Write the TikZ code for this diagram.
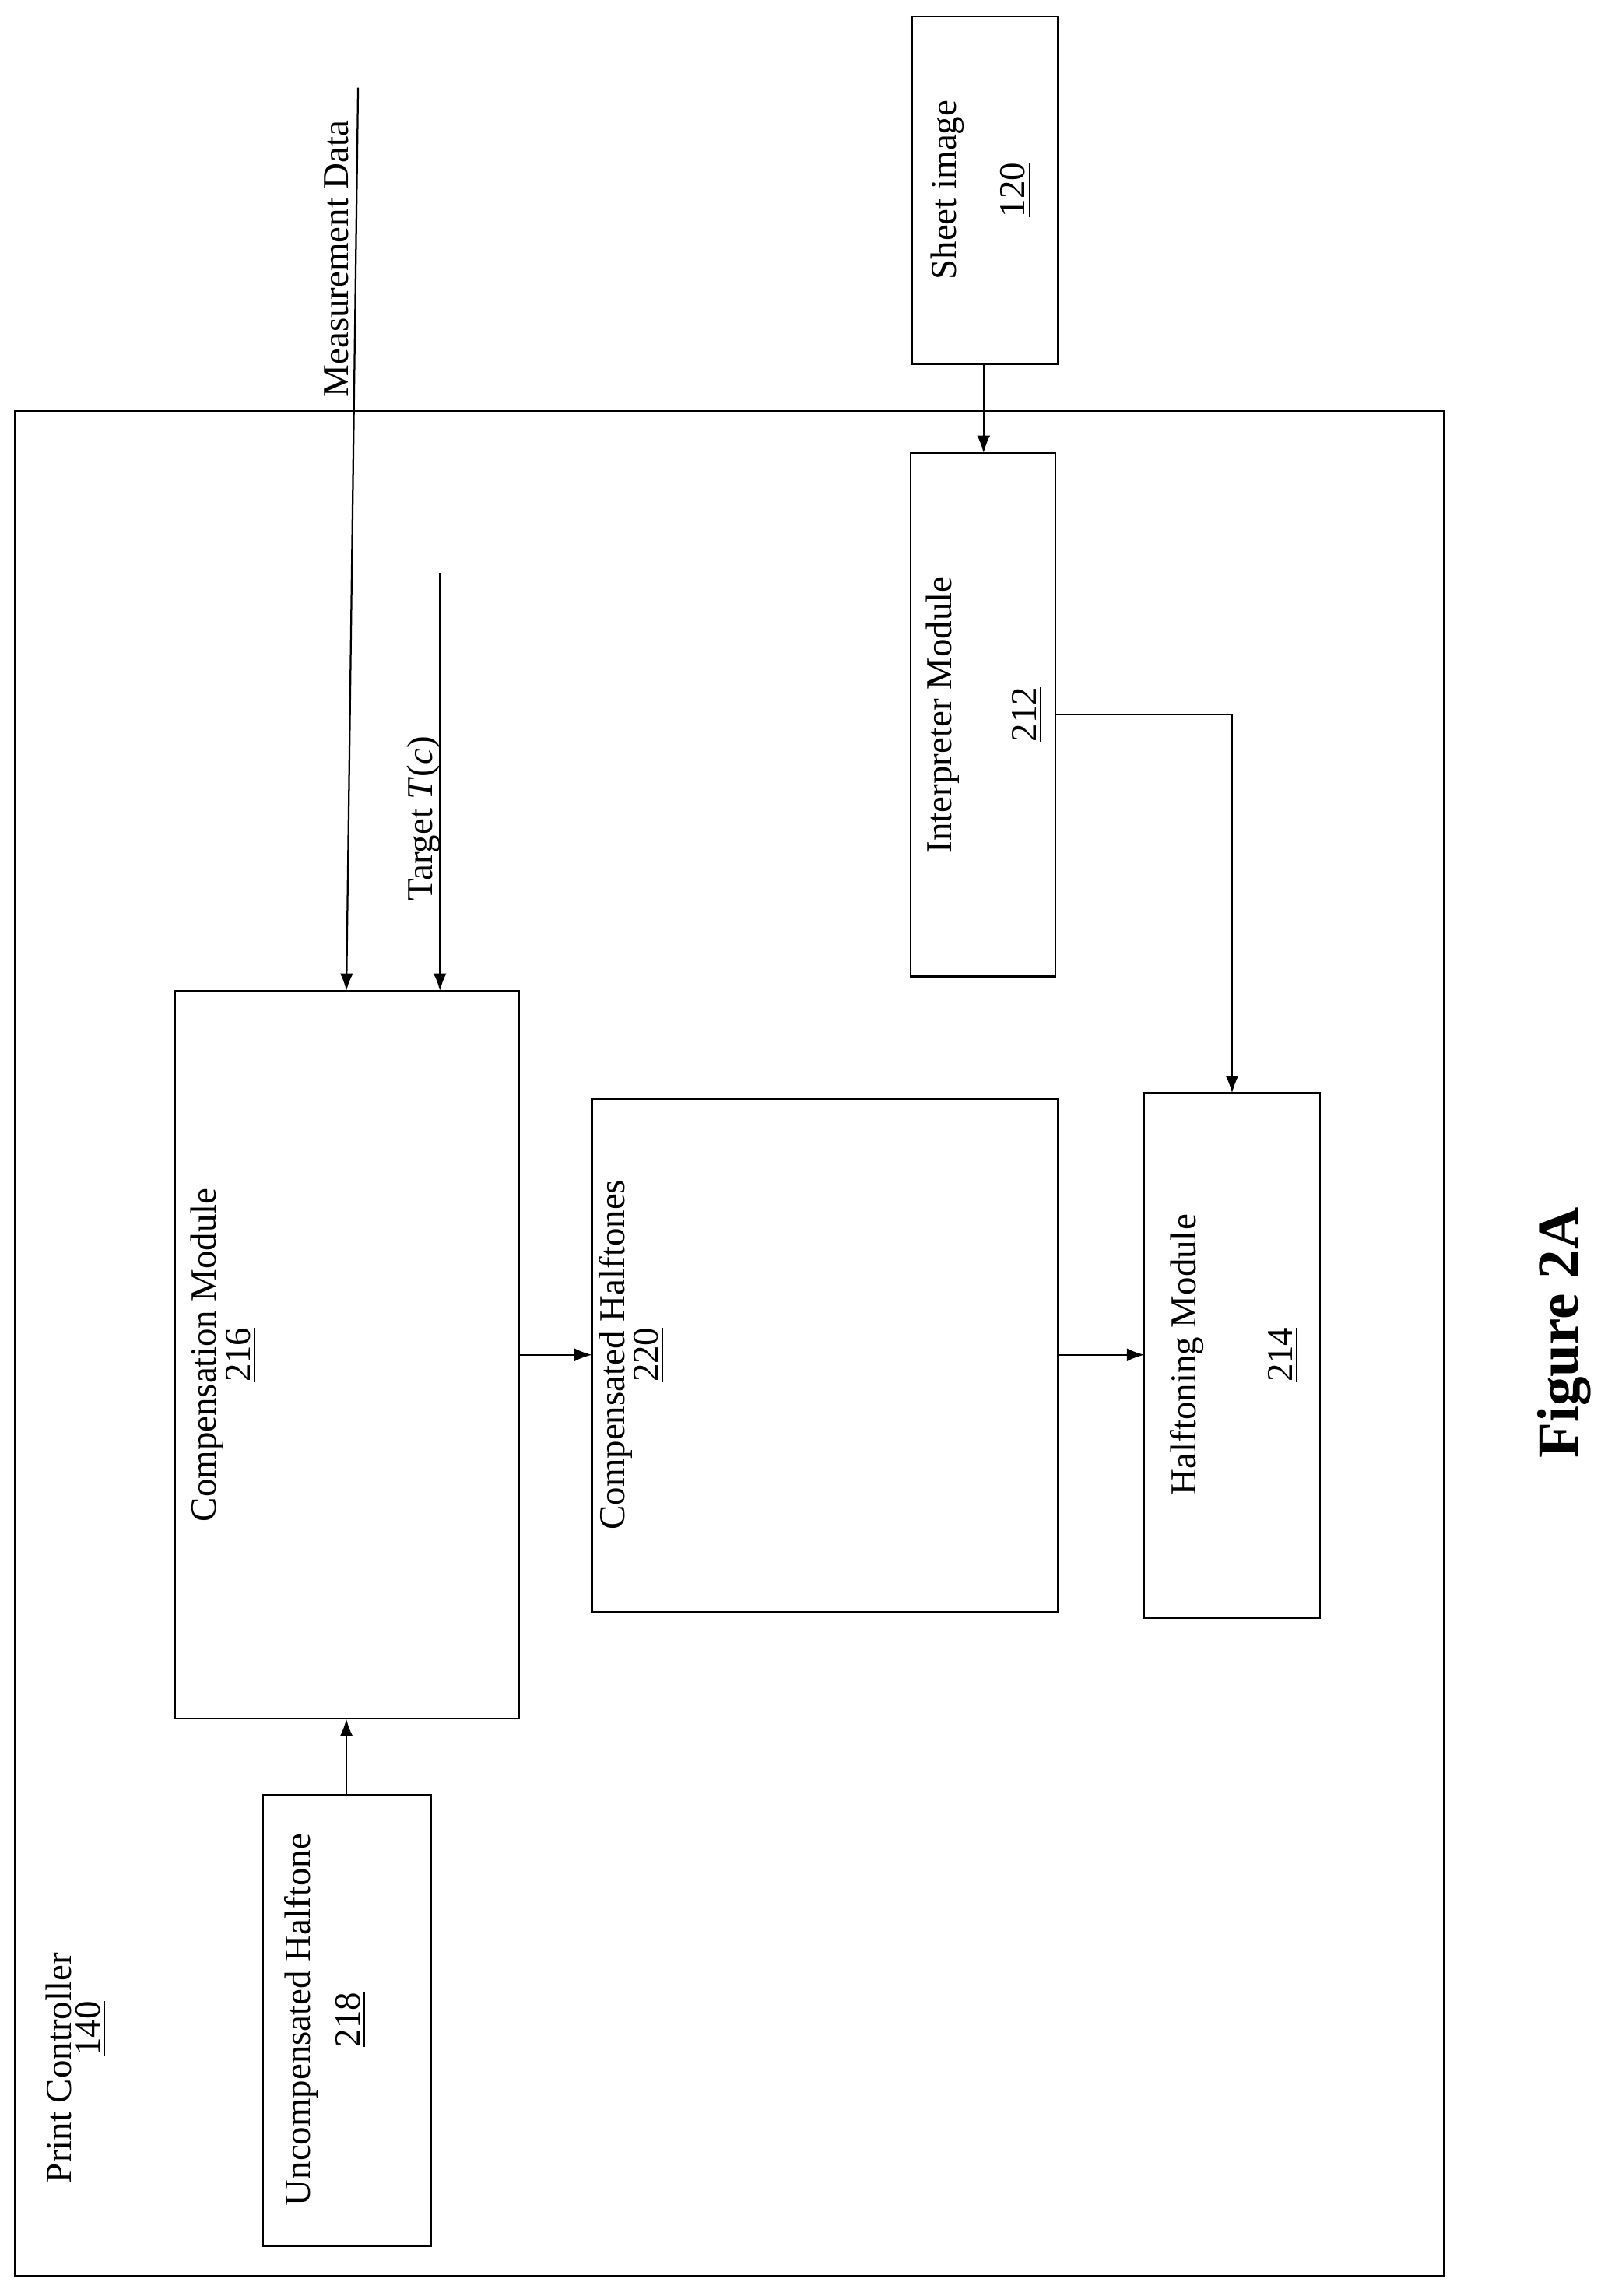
\documentclass[tikz,border=0pt]{standalone}
\usepackage{fontspec}
\setmainfont{Liberation Serif}
\usetikzlibrary{arrows.meta}
\begin{document}
\begin{tikzpicture}[x=0.5pt,y=-0.5pt,
  box/.style={draw,line width=0.6pt},
  lbl/.style={rotate=90,inner sep=0pt,font=\fontsize{12.5}{15}\selectfont},
  arr/.style={line width=0.6pt,-{Latex[length=6pt,width=4.5pt]}},
  ln/.style={line width=0.6pt}]
\useasboundingbox (0,0) rectangle (1100,1571);
\draw[box] (10,281) rectangle (988,1557);
\node[lbl] (pc) at (40,1415) {Print Controller};
\node[lbl] (pcn) at (62,1388) {\underline{140}};
% boxes
\draw[box] (624,11) rectangle (724,249);
\coordinate (sib) at (673,249);
\node[lbl] (si) at (648,130) {Sheet image};
\node[lbl] (sin) at (695,130) {\underline{120}};
\draw[box] (623,310) rectangle (722,668);
\coordinate (imt) at (673,310);
\coordinate (imr) at (722,489);
\node[lbl] (im) at (645,489) {Interpreter Module};
\node[lbl] (imn) at (703,489) {\underline{212}};
\draw[box] (783,748) rectangle (903,1107);
\coordinate (hmt) at (843,748);
\coordinate (hml) at (783,927);
\node[lbl] (hm) at (812,927) {Halftoning Module};
\node[lbl] (hmn) at (878,927) {\underline{214}};
\draw[box] (405,752) rectangle (724,1103);
\coordinate (chl) at (405,927);
\coordinate (chr) at (724,927);
\node[lbl] (ch) at (421,927) {Compensated Halftones};
\node[lbl] (chn) at (444,927) {\underline{220}};
\draw[box] (120,678) rectangle (355,1176);
\coordinate (cmr) at (355,927);
\coordinate (cmb) at (237,1176);
\coordinate (cmt1) at (237,678);
\coordinate (cmt2) at (301,678);
\node[lbl] (cm) at (142,927) {Compensation Module};
\node[lbl] (cmn) at (165,927) {\underline{216}};
\draw[box] (180,1228) rectangle (295,1537);
\coordinate (uht) at (237,1228);
\node[lbl] (uh) at (206,1382) {Uncompensated Halftone};
\node[lbl] (uhn) at (240,1382) {\underline{218}};
% inputs
\coordinate (md) at (245,60);
\node[lbl] (mdl) at (230,177) {Measurement Data};
\coordinate (tg) at (301,392);
\node[lbl] (tgl) at (290,560) {Target \textit{T}(\textit{c})};
% connectors
\draw[arr] (sib) -- (imt);
\draw[arr] (imr) -- (843,489) -- (hmt);
\draw[arr] (chr) -- (hml);
\draw[arr] (cmr) -- (chl);
\draw[arr] (uht) -- (cmb);
\draw[arr] (md) -- (cmt1);
\draw[arr] (tg) -- (cmt2);
\node[rotate=90,font=\fontsize{20}{24}\selectfont\bfseries] (fig) at (1070,912) {Figure 2A};
\end{tikzpicture}
\end{document}
